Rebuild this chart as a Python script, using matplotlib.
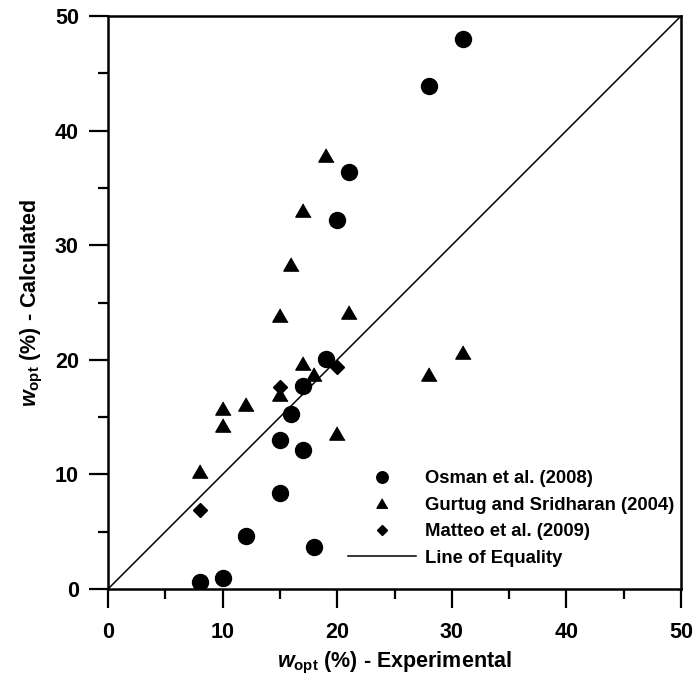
import numpy as np
import matplotlib
matplotlib.use("Agg")
import matplotlib.pyplot as plt
from matplotlib.ticker import MultipleLocator

# data
osman_x = [31, 28, 21, 20, 19, 17, 16, 15, 17, 15, 12, 18, 8, 10]
osman_y = [48.0, 43.9, 36.4, 32.2, 20.1, 17.7, 15.3, 13.0, 12.1, 8.35, 4.6, 3.7, 0.64, 0.93]

gurtug_x = [19, 17, 16, 15, 21, 17, 18, 28, 31, 15, 10, 12, 10, 20, 8]
gurtug_y = [37.9, 33.1, 28.4, 23.9, 24.2, 19.7, 18.8, 18.8, 20.65, 17.0, 15.8, 16.1, 14.3, 13.6, 10.3]

matteo_x = [20, 15, 8]
matteo_y = [19.4, 17.6, 6.9]

equality = [0, 50]

plt.rcParams['font.family'] = ['Liberation Sans', 'DejaVu Sans']
plt.rcParams['font.weight'] = 'bold'
plt.rcParams['mathtext.fontset'] = 'custom'
plt.rcParams['mathtext.rm'] = 'Liberation Sans:bold'
plt.rcParams['mathtext.bf'] = 'Liberation Sans:bold'
plt.rcParams['mathtext.it'] = 'Liberation Sans:italic:bold'

fig = plt.figure(figsize=(6.98, 6.79), dpi=100)
ax = fig.add_axes([108 / 698, 90 / 679, 573 / 698, 573 / 679])

tri = [(0, 0.866), (-1, -0.866), (1, -0.866)]

ax.plot(osman_x, osman_y, 'o', ms=11.5, color='black', mec='black', label='Osman et al. (2008)')
ax.plot(gurtug_x, gurtug_y, ls='none', marker=tri, ms=11, color='black', label='Gurtug and Sridharan (2004)')
ax.plot(matteo_x, matteo_y, 'D', ms=7.2, color='black', label='Matteo et al. (2009)')
ax.plot(equality, equality, '-', color='black', lw=1.1, label='Line of Equality')

ax.set_xlim(0, 50)
ax.set_ylim(0, 50)
ax.xaxis.set_major_locator(MultipleLocator(10))
ax.xaxis.set_minor_locator(MultipleLocator(5))
ax.yaxis.set_major_locator(MultipleLocator(10))
ax.yaxis.set_minor_locator(MultipleLocator(5))

for s in ax.spines.values():
    s.set_linewidth(1.8)
ax.tick_params(which='major', direction='out', length=14, width=1.6, labelsize=15.5)
ax.tick_params(which='minor', direction='out', length=7, width=1.6)
ax.tick_params(axis='x', which='major', pad=10)
ax.tick_params(axis='y', which='major', pad=7)
for lab in ax.get_xticklabels() + ax.get_yticklabels():
    lab.set_fontweight('bold')

ax.set_xlabel(r'$w_{\mathrm{opt}}$ (%) - Experimental', fontsize=15.5, fontweight='bold', labelpad=5)
ax.set_ylabel(r'$w_{\mathrm{opt}}$ (%) - Calculated', fontsize=15.5, fontweight='bold', labelpad=7)

ax.legend(loc='center left', bbox_to_anchor=(0.419, 0.123), frameon=False,
          markerscale=0.72, handlelength=3.7, handletextpad=0.45,
          labelspacing=0.52, borderpad=0, borderaxespad=0,
          prop={'weight': 'bold', 'size': 13.3})

fig.savefig('out.png', dpi=100)
